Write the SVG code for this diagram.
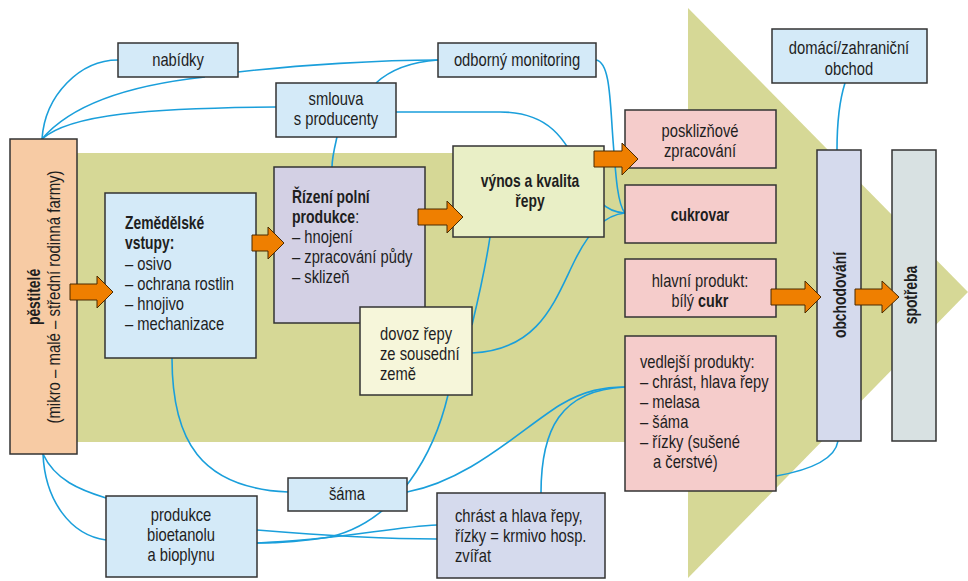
<svg xmlns="http://www.w3.org/2000/svg" width="968" height="581" viewBox="0 0 968 581">
<style>
text{font-family:"Liberation Sans",Arial,sans-serif;font-size:18px;fill:#1e1e1e}
.b{font-weight:bold}
.m{text-anchor:middle}
.box{stroke:#333;stroke-width:1.5}
.blue{fill:#d4eaf8}
.pink{fill:#f5cccb}
.lav{fill:#d5daed}
.con{fill:none;stroke:#1a9fdb;stroke-width:1.6}
.arr{fill:#ef7f00;stroke:#4a2a00;stroke-width:1}
</style>
<g id="background">
<rect x="77" y="153" width="613" height="289" fill="#d6d896"/>
<polygon points="688,8 968,292 688,578" fill="#d6d896"/>
</g>
<g id="connectors">
<path class="con" d="M42,139 C45,95 80,60 118,60"/>
<path class="con" d="M42,139 C75,100 140,84 205,77"/>
<path class="con" d="M238,72 C300,65 380,60 438,60"/>
<path class="con" d="M42,139 C70,114 150,108 276,107"/>
<path class="con" d="M438,60 C410,62 390,70 376,83"/>
<path class="con" d="M596,60 C610,62 610,100 613,140 C616,180 618,205 625,213"/>
<path class="con" d="M396,112 L500,112 C550,112 565,140 580,170 C595,200 605,212 625,213"/>
<path class="con" d="M337,137 C334,150 332,158 332,167"/>
<path class="con" d="M490,237 C485,270 478,300 472,325"/>
<path class="con" d="M472,353 C540,350 555,300 575,260 C590,230 605,215 625,213"/>
<path class="con" d="M172,358 C172,440 200,488 288,492"/>
<path class="con" d="M448,395 C435,450 400,520 330,537 C300,542 275,543 257,543"/>
<path class="con" d="M257,530 C330,536 380,539 437,539"/>
<path class="con" d="M257,543 C340,540 390,527 437,525"/>
<path class="con" d="M407,492 C470,480 520,430 560,405 C585,390 605,387 625,387"/>
<path class="con" d="M541,493 C541,430 560,390 625,387"/>
<path class="con" d="M43,454 C55,480 80,490 106,498"/>
<path class="con" d="M43,454 C45,500 70,535 106,540"/>
<path class="con" d="M776,476 C810,470 835,460 838,441"/>
<path class="con" d="M845,83 C838,105 837,130 837,150"/>
</g>
<g id="pestitele">
<rect class="box" x="10" y="139" width="67" height="315" fill="#f7cba4"/>
<text class="b m" transform="translate(40,297) rotate(-90) scale(.77,1)">pěstitelé</text>
<text class="m" transform="translate(60,297) rotate(-90) scale(.83,1)">(mikro – malé – střední rodinná farmy)</text>
</g>
<g id="nabidky">
<rect class="box blue" x="118" y="43" width="120" height="34"/>
<text class="m" transform="translate(178,66) scale(.82,1)">nabídky</text>
</g>
<g id="monitoring">
<rect class="box blue" x="438" y="43" width="158" height="34"/>
<text class="m" transform="translate(517,66) scale(.82,1)">odborný monitoring</text>
</g>
<g id="smlouva">
<rect class="box blue" x="276" y="83" width="120" height="54"/>
<text class="m" transform="translate(336,105) scale(.82,1)">smlouva</text>
<text class="m" transform="translate(336,125) scale(.82,1)">s producenty</text>
</g>
<g id="obchod">
<rect class="box blue" x="772" y="29" width="155" height="54"/>
<text class="m" transform="translate(849,54) scale(.82,1)">domácí/zahraniční</text>
<text class="m" transform="translate(849,75) scale(.82,1)">obchod</text>
</g>
<g id="vstupy">
<rect class="box blue" x="105" y="193" width="151" height="165"/>
<text class="b" transform="translate(125,229) scale(.77,1)">Zemědělské</text>
<text class="b" transform="translate(125,249) scale(.77,1)">vstupy:</text>
<text transform="translate(125,270) scale(.82,1)">– osivo</text>
<text transform="translate(125,290) scale(.82,1)">– ochrana rostlin</text>
<text transform="translate(125,310) scale(.82,1)">– hnojivo</text>
<text transform="translate(125,330) scale(.82,1)">– mechanizace</text>
</g>
<g id="rizeni">
<rect class="box" x="274" y="167" width="151" height="156" fill="#d3d0e4"/>
<text class="b" transform="translate(292,203) scale(.77,1)">Řízení polní</text>
<text transform="translate(292,223) scale(.78,1)"><tspan class="b">produkce</tspan>:</text>
<text transform="translate(292,243) scale(.82,1)">– hnojení</text>
<text transform="translate(292,263) scale(.82,1)">– zpracování půdy</text>
<text transform="translate(292,283) scale(.82,1)">– sklizeň</text>
</g>
<g id="vynos">
<rect class="box" x="453" y="146" width="151" height="91" fill="#e9efc6"/>
<text class="b m" transform="translate(530,187) scale(.77,1)">výnos a kvalita</text>
<text class="b m" transform="translate(530,207) scale(.77,1)">řepy</text>
</g>
<g id="dovoz">
<rect class="box" x="360" y="307" width="112" height="88" fill="#f6f6da"/>
<text transform="translate(380,340) scale(.82,1)">dovoz řepy</text>
<text transform="translate(380,360) scale(.82,1)">ze sousední</text>
<text transform="translate(380,380) scale(.82,1)">země</text>
</g>
<g id="posklizne">
<rect class="box pink" x="625" y="110" width="151" height="58"/>
<text class="m" transform="translate(700,137) scale(.82,1)">posklizňové</text>
<text class="m" transform="translate(700,157) scale(.82,1)">zpracování</text>
</g>
<g id="cukrovar">
<rect class="box pink" x="625" y="185" width="151" height="58"/>
<text class="b m" transform="translate(700,221) scale(.77,1)">cukrovar</text>
</g>
<g id="hlavni">
<rect class="box pink" x="625" y="259" width="151" height="58"/>
<text class="m" transform="translate(700,287) scale(.82,1)">hlavní produkt:</text>
<text class="m" transform="translate(700,307) scale(.8,1)">bílý <tspan class="b">cukr</tspan></text>
</g>
<g id="vedlejsi">
<rect class="box pink" x="625" y="336" width="151" height="155"/>
<text transform="translate(640,368) scale(.82,1)">vedlejší produkty:</text>
<text transform="translate(640,388) scale(.82,1)">– chrást, hlava řepy</text>
<text transform="translate(640,408) scale(.82,1)">– melasa</text>
<text transform="translate(640,428) scale(.82,1)">– šáma</text>
<text transform="translate(640,448) scale(.82,1)">– řízky (sušené</text>
<text transform="translate(653,468) scale(.82,1)">a čerstvé)</text>
</g>
<g id="obchodovani">
<rect class="box lav" x="817" y="150" width="44" height="291"/>
<text class="b m" transform="translate(846,295) rotate(-90) scale(.77,1)">obchodování</text>
</g>
<g id="spotreba">
<rect class="box" x="892" y="150" width="44" height="291" fill="#d8e1e2"/>
<text class="b m" transform="translate(917,295) rotate(-90) scale(.77,1)">spotřeba</text>
</g>
<g id="sama">
<rect class="box blue" x="288" y="478" width="119" height="33"/>
<text class="m" transform="translate(347,500) scale(.82,1)">šáma</text>
</g>
<g id="bioetanol">
<rect class="box blue" x="106" y="496" width="151" height="81"/>
<text class="m" transform="translate(181,521) scale(.82,1)">produkce</text>
<text class="m" transform="translate(181,541) scale(.82,1)">bioetanolu</text>
<text class="m" transform="translate(181,561) scale(.82,1)">a bioplynu</text>
</g>
<g id="krmivo">
<rect class="box lav" x="437" y="493" width="168" height="85"/>
<text transform="translate(455,522) scale(.82,1)">chrást a hlava řepy,</text>
<text transform="translate(455,542) scale(.82,1)">řízky = krmivo hosp.</text>
<text transform="translate(455,562) scale(.82,1)">zvířat</text>
</g>
<g id="arrows">
<polygon class="arr" points="70,284 97,284 97,276 113,292 97,308 97,300 70,300"/>
<polygon class="arr" points="252,235 268,235 268,227 284,243 268,259 268,251 252,251"/>
<polygon class="arr" points="418,209 447,209 447,201 463,217 447,233 447,225 418,225"/>
<polygon class="arr" points="594,151 622,151 622,143 638,159 622,175 622,167 594,167"/>
<polygon class="arr" points="771,289 805,289 805,281 821,297 805,313 805,305 771,305"/>
<polygon class="arr" points="855,289 882,289 882,281 899,297 882,313 882,305 855,305"/>
</g>
</svg>
